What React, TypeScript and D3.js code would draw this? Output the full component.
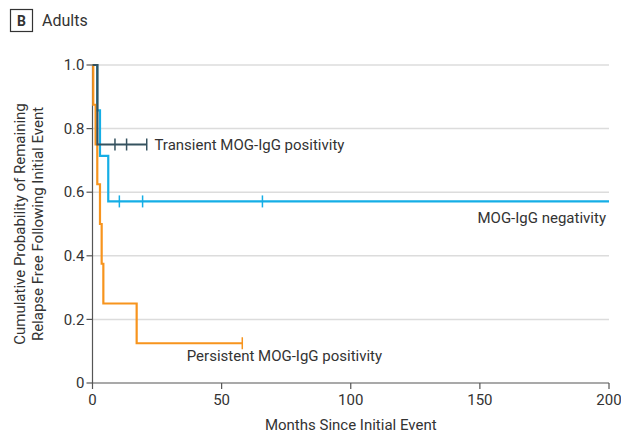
import React from 'react'
import * as d3 from 'd3'

// Kaplan-Meier curves, adults (months since initial event)
const transientSteps = [
  { t: 0, s: 1.0 },
  { t: 1.9, s: 0.75 },
]
const transientEnd = 21
const transientCensors = [8.7, 13.2, 21]

const negativeSteps = [
  { t: 0, s: 1.0 },
  { t: 1.8, s: 0.857 },
  { t: 2.9, s: 0.714 },
  { t: 6.1, s: 0.571 },
]
const negativeEnd = 200
const negativeCensors = [10.4, 19.4, 65.8]

const persistentSteps = [
  { t: 0, s: 1.0 },
  { t: 0.3, s: 0.875 },
  { t: 1.2, s: 0.75 },
  { t: 1.85, s: 0.625 },
  { t: 2.9, s: 0.5 },
  { t: 3.55, s: 0.375 },
  { t: 4.2, s: 0.25 },
  { t: 17.1, s: 0.125 },
]
const persistentEnd = 58
const persistentCensors = [58]

const xTicks = [0, 50, 100, 150, 200]
const yTicks = [0, 0.2, 0.4, 0.6, 0.8, 1.0]

const FONT = 'Roboto, sans-serif'
const TEXT = '#333'
const FS = 15

const App = () => {
  const width = 621
  const height = 437
  const margin = { top: 65, right: 12, bottom: 54, left: 92.5 }
  const innerW = width - margin.left - margin.right
  const innerH = height - margin.top - margin.bottom

  const x = d3.scaleLinear().domain([0, 200]).range([0, innerW])
  const y = d3.scaleLinear().domain([0, 1]).range([innerH, 0])

  const stepLine = d3
    .line<{ t: number; s: number }>()
    .x((d) => x(d.t))
    .y((d) => y(d.s))
    .curve(d3.curveStepAfter)

  const curve = (steps: { t: number; s: number }[], end: number) =>
    stepLine([...steps, { t: end, s: steps[steps.length - 1].s }]) || ''

  const series = [
    { steps: negativeSteps, end: negativeEnd, censors: negativeCensors, color: '#15aee6' },
    { steps: persistentSteps, end: persistentEnd, censors: persistentCensors, color: '#f7941d' },
    { steps: transientSteps, end: transientEnd, censors: transientCensors, color: '#35525f' },
  ]

  return (
    <svg width={width} height={height} style={{ position: 'absolute', left: 0, top: 0 }} fontFamily={FONT}>
      <rect x={10.5} y={9.5} width={22} height={22} fill="none" stroke={TEXT} strokeWidth={1.2} />
      <text x={21.5} y={25.5} textAnchor="middle" fontSize={14} fontWeight="bold" fill={TEXT}>
        B
      </text>
      <text x={42} y={26} fontSize={16} fill={TEXT}>
        Adults
      </text>

      <g transform={`rotate(-90) translate(${-(margin.top + innerH / 2)}, 0)`}>
        <text x={0} y={25} textAnchor="middle" fontSize={FS} fill={TEXT}>
          Cumulative Probability of Remaining
        </text>
        <text x={0} y={43} textAnchor="middle" fontSize={FS} fill={TEXT}>
          Relapse Free Following Initial Event
        </text>
      </g>

      <g transform={`translate(${margin.left}, ${margin.top})`}>
        {yTicks.filter((t) => t > 0).map((t) => (
          <line key={t} x1={0} x2={innerW} y1={y(t)} y2={y(t)} stroke="#dcdcdc" strokeWidth={1.5} />
        ))}
        <line x1={0} x2={0} y1={0} y2={innerH} stroke="#555" strokeWidth={1.2} />
        <line x1={0} x2={innerW} y1={innerH} y2={innerH} stroke="#555" strokeWidth={1.2} />
        {yTicks.map((t) => (
          <g key={t} transform={`translate(0, ${y(t)})`}>
            <line x1={-6} x2={0} stroke="#555" strokeWidth={1.2} />
            <text x={-8} dy="0.35em" textAnchor="end" fontSize={FS} fill={TEXT}>
              {t === 0 ? '0' : t.toFixed(1)}
            </text>
          </g>
        ))}
        {xTicks.map((t) => (
          <g key={t} transform={`translate(${x(t)}, ${innerH})`}>
            <line y1={0} y2={6} stroke="#555" strokeWidth={1.2} />
            <text y={22} textAnchor="middle" fontSize={FS} fill={TEXT}>
              {t}
            </text>
          </g>
        ))}
        <text x={innerW / 2} y={innerH + 47} textAnchor="middle" fontSize={FS} fill={TEXT}>
          Months Since Initial Event
        </text>

        {series.map((sr, i) => {
          const stepAt = (t: number) => {
            let s = sr.steps[0].s
            sr.steps.forEach((d) => {
              if (d.t <= t) s = d.s
            })
            return s
          }
          return (
            <g key={i}>
              <path d={curve(sr.steps, sr.end)} fill="none" stroke={sr.color} strokeWidth={2.2} />
              {sr.censors.map((c) => (
                <line
                  key={c}
                  x1={x(c)}
                  x2={x(c)}
                  y1={y(stepAt(c)) - 6}
                  y2={y(stepAt(c)) + 6}
                  stroke={sr.color}
                  strokeWidth={1.5}
                />
              ))}
            </g>
          )
        })}

        <text x={x(24)} y={y(0.75)} dy="0.35em" fontSize={FS} fill={TEXT}>
          Transient MOG-IgG positivity
        </text>
        <text x={innerW - 3} y={y(0.52)} dy="0.35em" textAnchor="end" fontSize={FS} fill={TEXT}>
          MOG-IgG negativity
        </text>
        <text x={x(36.5)} y={y(0.085)} dy="0.35em" fontSize={FS} fill={TEXT}>
          Persistent MOG-IgG positivity
        </text>
      </g>
    </svg>
  )
}

export default App
